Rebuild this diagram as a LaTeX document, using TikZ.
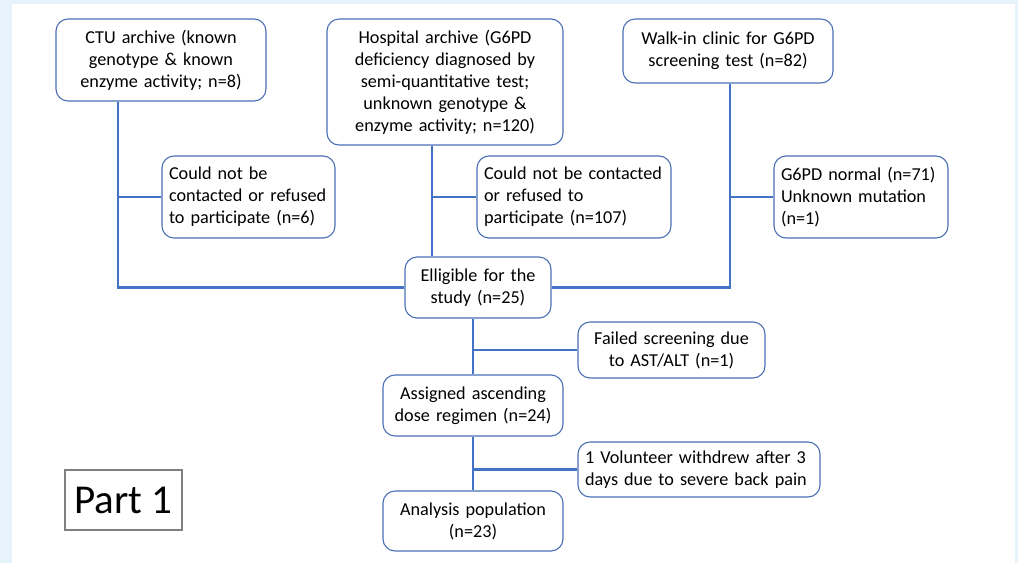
\documentclass[tikz,border=0pt]{standalone}
\usepackage{fontspec}
\setmainfont{Carlito}
\definecolor{bgblue}{HTML}{E6F3FB}
\definecolor{lineblue}{HTML}{4472C4}
\definecolor{boxblue}{HTML}{4A6FB5}
\definecolor{partgray}{HTML}{808080}
\begin{document}
\begin{tikzpicture}[x=1pt,y=-1pt,
  box/.style={draw=boxblue, rounded corners=12pt, line width=1.1pt, fill=white, inner sep=0pt,
    font=\fontsize{18.2}{22}\selectfont},
  cbox/.style={box, align=center},
  lbox/.style={box, align=left},
  conn/.style={draw=lineblue, line width=2.5pt},
  partbox/.style={draw=partgray, line width=1.6pt, fill=white, inner sep=0pt, font=\fontsize{41}{44}\selectfont}
]
\fill[bgblue] (0,0) rectangle (1018,563);
\fill[white] (12,4) rectangle (1015,563);
\useasboundingbox (0,0) rectangle (1018,563);

\node[cbox, minimum width=210pt, minimum height=82pt, text width=200pt] (ctu) at (161,60)
  {CTU archive (known\\genotype \& known\\enzyme activity; n=8)};
\node[cbox, minimum width=236pt, minimum height=126pt, text width=226pt] (hosp) at (445,82)
  {Hospital archive (G6PD\\deficiency diagnosed by\\semi-quantitative test;\\unknown genotype \&\\enzyme activity; n=120)};
\node[cbox, minimum width=210pt, minimum height=64pt, text width=200pt] (walk) at (728,51)
  {Walk-in clinic for G6PD\\screening test (n=82)};
\node[lbox, minimum width=173pt, minimum height=82pt, text width=159pt] (c1) at (248.5,197)
  {Could not be\\contacted or refused\\to participate (n=6)};
\node[lbox, minimum width=194pt, minimum height=82pt, text width=180pt] (c2) at (574,197)
  {Could not be contacted\\or refused to\\participate (n=107)};
\node[lbox, minimum width=174pt, minimum height=82pt, text width=160pt] (g6) at (861,197)
  {G6PD normal (n=71)\\Unknown mutation\\(n=1)};
\node[cbox, minimum width=146pt, minimum height=61pt, text width=140pt] (elig) at (478,287.5)
  {Elligible for the\\study (n=25)};
\node[cbox, minimum width=187pt, minimum height=56pt, text width=181pt] (fail) at (671.5,350)
  {Failed screening due\\to AST/ALT (n=1)};
\node[cbox, minimum width=180pt, minimum height=61pt, text width=174pt] (assign) at (473,405.5)
  {Assigned ascending\\dose regimen (n=24)};
\node[lbox, minimum width=242pt, minimum height=55pt, text width=228pt] (vol) at (699,469.5)
  {1 Volunteer withdrew after 3\\days due to severe back pain};
\node[cbox, minimum width=180pt, minimum height=60pt, text width=174pt] (anal) at (473,521)
  {Analysis population\\(n=23)};
\node[partbox, minimum width=117pt, minimum height=60pt] (part) at (123.5,500) {Part 1};

\coordinate (j1) at (118,197);
\coordinate (j2) at (432,197);
\coordinate (j3) at (730,197);
\coordinate (j4) at (473,350);
\coordinate (j5) at (473,469.5);

\draw[conn] (ctu.south -| j1) -- (j1 |- elig.west) -- (elig.west);
\draw[conn] (j1) -- (c1.west);
\draw[conn] (hosp.south -| j2) -- (elig.north -| j2);
\draw[conn] (j2) -- (c2.west);
\draw[conn] (walk.south -| j3) -- (j3 |- elig.east) -- (elig.east);
\draw[conn] (j3) -- (g6.west);
\draw[conn] (elig.south -| j4) -- (assign.north);
\draw[conn] (j4) -- (fail.west);
\draw[conn] (assign.south) -- (anal.north);
\draw[conn] (j5) -- (vol.west);
\end{tikzpicture}
\end{document}
